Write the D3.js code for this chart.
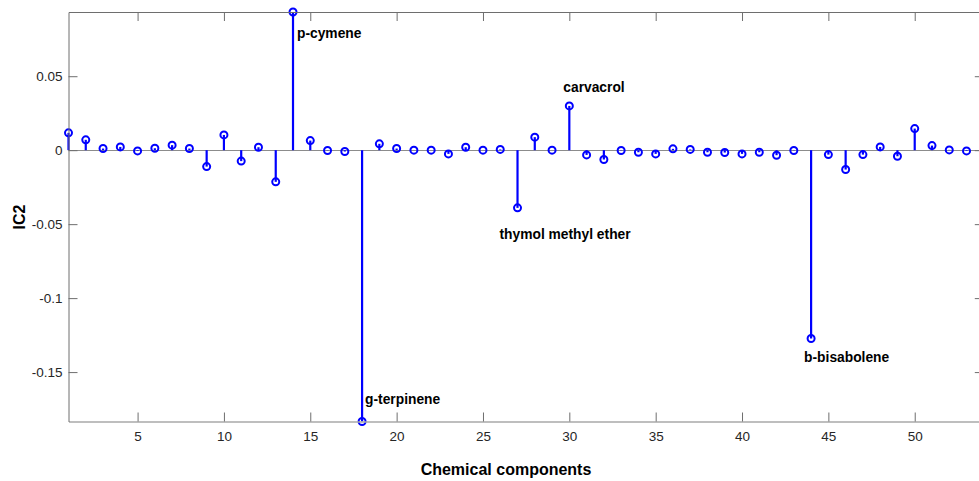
<!DOCTYPE html>
<html>
<head>
<meta charset="utf-8">
<script src="https://cdn.jsdelivr.net/npm/d3@7"></script>
<style>
html,body{margin:0;padding:0;background:#fff;}
svg{display:block;}
text{font-family:"Liberation Sans",Arial,Helvetica,sans-serif;}
</style>
</head>
<body>
<svg id="chart" width="979" height="481"></svg>
<script>
// ---- data ----
const components = d3.range(1, 54);
const ic2 = [
  0.0117, 0.0070, 0.0011, 0.0022, -0.0005, 0.0013, 0.0034, 0.0011, -0.0111, 0.0103,
  -0.0074, 0.0020, -0.0214, 0.0934, 0.0065, -0.0002, -0.0009, -0.1834, 0.0043, 0.0011,
  0.0000, 0.0000, -0.0025, 0.0020, 0.0000, 0.0005, -0.0390, 0.0088, 0.0000, 0.0299,
  -0.0032, -0.0063, -0.0002, -0.0014, -0.0025, 0.0009, 0.0005, -0.0014, -0.0016, -0.0025,
  -0.0014, -0.0034, -0.0002, -0.1273, -0.0030, -0.0131, -0.0030, 0.0022, -0.0041, 0.0146,
  0.0031, 0.0002, -0.0005
];
const xTicks = [5, 10, 15, 20, 25, 30, 35, 40, 45, 50];
const yTicks = [-0.15, -0.1, -0.05, 0, 0.05];
const yTickLabels = ["-0.15", "-0.1", "-0.05", "0", "0.05"];
const labelNames = ["p-cymene", "g-terpinene", "thymol methyl ether", "carvacrol", "b-bisabolene"];
const labelComponents = [14, 18, 27, 30, 44];

// ---- layout / style (not data) ----
const labelOffsets = {14:[4,21], 18:[3,-22], 27:[-18,26], 30:[-6,-19], 44:[-7,19]};
const L = 68.5, R = 983.8, T = 12, B = 421.5;
const blue = "#0000ff", axisCol = "#6e6e6e", textCol = "#262626";

const svg = d3.select("#chart");
const x = d3.scaleLinear().domain([1, 54]).range([L, R]);
const y = d3.scaleLinear().domain([-0.1834, 0.0934]).range([B, T]);

const data = components.map((c, i) => ({c, v: ic2[i]}));

// baseline
svg.append("line")
  .attr("x1", L).attr("x2", R)
  .attr("y1", Math.round(y(0)) + 0.5).attr("y2", Math.round(y(0)) + 0.5)
  .attr("stroke", "#8c8c8c").attr("stroke-width", 1);

// stems
svg.append("g").selectAll("line").data(data).join("line")
  .attr("x1", d => x(d.c)).attr("x2", d => x(d.c))
  .attr("y1", y(0)).attr("y2", d => y(d.v))
  .attr("stroke", blue).attr("stroke-width", 2.2);

// markers
svg.append("g").selectAll("circle").data(data).join("circle")
  .attr("cx", d => x(d.c)).attr("cy", d => y(d.v))
  .attr("r", 3.5)
  .attr("fill", "none").attr("stroke", blue).attr("stroke-width", 2);

// axes
const tickLen = 9;
const xAxisB = d3.axisBottom(x).tickValues(xTicks).tickSizeInner(-tickLen).tickSizeOuter(0).tickPadding(10);
const gxb = svg.append("g").attr("transform", `translate(0,${B})`).call(xAxisB);
const xAxisT = d3.axisTop(x).tickValues(xTicks).tickSizeInner(-tickLen).tickSizeOuter(0).tickFormat("");
const gxt = svg.append("g").attr("transform", `translate(0,${T})`).call(xAxisT);
const yAxisL = d3.axisLeft(y).tickValues(yTicks).tickSizeInner(-tickLen).tickSizeOuter(0).tickPadding(6)
  .tickFormat((d, i) => yTickLabels[i]);
const gyl = svg.append("g").attr("transform", `translate(${L},0)`).call(yAxisL);
const yAxisR = d3.axisRight(y).tickValues(yTicks).tickSizeInner(-tickLen).tickSizeOuter(0).tickFormat("");
const gyr = svg.append("g").attr("transform", `translate(${R},0)`).call(yAxisR);

[gxb, gxt, gyl, gyr].forEach(g => {
  g.select(".domain").attr("stroke", axisCol).attr("stroke-width", 1);
  g.selectAll(".tick line").attr("stroke", axisCol).attr("stroke-width", 1);
  g.selectAll(".tick text").attr("fill", textCol)
    .style("font-family", '"Liberation Sans",Arial,sans-serif').style("font-size", "13.5px");
});
gxb.select(".domain").attr("stroke", "#a8a8a8").attr("stroke-width", 1.6);

// annotations
svg.append("g").selectAll("text").data(labelNames).join("text")
  .attr("x", (d, i) => x(labelComponents[i]) + labelOffsets[labelComponents[i]][0])
  .attr("y", (d, i) => y(ic2[labelComponents[i] - 1]) + labelOffsets[labelComponents[i]][1])
  .attr("dy", "0.35em")
  .attr("font-size", "13.8px").attr("font-weight", "bold").attr("fill", "#000")
  .text(d => d);

// axis titles
svg.append("text")
  .attr("x", 506).attr("y", 469).attr("dy", "0.35em")
  .attr("text-anchor", "middle")
  .attr("font-size", "16px").attr("font-weight", "bold").attr("fill", "#000")
  .text("Chemical components");
svg.append("text")
  .attr("transform", "translate(19,217) rotate(-90)")
  .attr("dy", "0.35em")
  .attr("text-anchor", "middle")
  .attr("font-size", "16px").attr("font-weight", "bold").attr("fill", "#000")
  .text("IC2");
</script>
</body>
</html>
